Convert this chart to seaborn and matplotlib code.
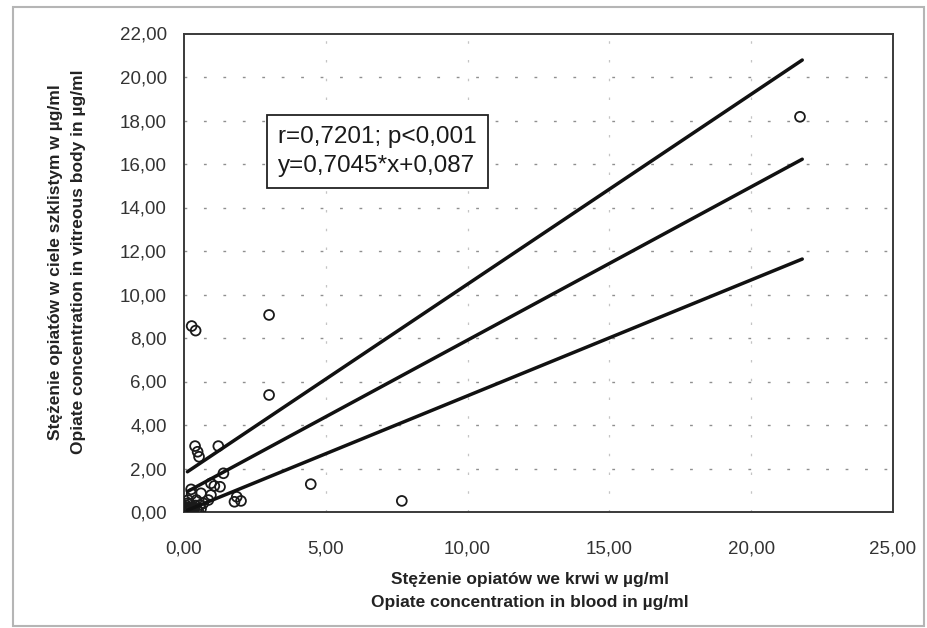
import matplotlib
matplotlib.use("Agg")
import matplotlib.pyplot as plt
import seaborn as sns
import pandas as pd
from matplotlib.patches import Rectangle

# ---- data ----
blood = [21.72, 3.00, 3.00, 0.27, 0.41, 0.39, 0.48, 0.53, 1.21, 1.39,
         0.95, 1.07, 1.27, 0.25, 0.27, 0.60, 0.95, 0.86, 0.68, 1.86,
         1.78, 2.01, 0.15, 0.44, 0.56, 0.33, 4.47, 7.68,
         0.05, 0.10, 0.15, 0.20, 0.25, 0.30, 0.35, 0.45, 0.50, 0.08,
         0.12, 0.20, 0.60, 0.40, 0.05]
vitreous = [18.17, 9.06, 5.38, 8.55, 8.34, 3.03, 2.77, 2.54, 3.03, 1.78,
            1.32, 1.20, 1.16, 1.04, 0.83, 0.86, 0.78, 0.55, 0.40, 0.70,
            0.47, 0.51, 0.55, 0.55, 0.32, 0.24, 1.28, 0.51,
            0.05, 0.12, 0.20, 0.08, 0.15, 0.05, 0.10, 0.12, 0.05, 0.30,
            0.40, 0.35, 0.15, 0.30, 0.20]

line_x = [0.12, 21.80]
upper_y = [1.85, 20.78]
mid_y = [0.94, 16.22]
lower_y = [0.08, 11.63]

y_ticks = [0, 2, 4, 6, 8, 10, 12, 14, 16, 18, 20, 22]
x_ticks = [0, 5, 10, 15, 20, 25]

annot = "r=0,7201; p<0,001\ny=0,7045*x+0,087"
xlabel = "Stężenie opiatów we krwi w µg/ml\nOpiate concentration in blood in µg/ml"
ylabel = "Stężenie opiatów w ciele szklistym w µg/ml\nOpiate concentration in vitreous body in µg/ml"

# ---- plot ----
sns.set_theme(style="white")
plt.rcParams['font.family'] = ['Liberation Sans', 'DejaVu Sans']

fig = plt.figure(figsize=(9.28, 6.28), dpi=100)
ax = fig.add_axes([184/928, 1-512/628, (893-184)/928, (512-33.5)/628])

# grid
for yv in y_ticks[1:-1]:
    ax.axhline(yv, color="#8f8f8f", lw=1.0, ls=(0, (2, 12)), zorder=0)
for xv in x_ticks[1:-1]:
    ax.axvline(xv, color="#c4c4c4", lw=0.9, ls=(0, (2, 13)), zorder=0)

df_pts = pd.DataFrame({"x": blood, "y": vitreous})
sns.scatterplot(data=df_pts, x="x", y="y", ax=ax, marker="o", s=50,
                facecolor="none", edgecolor="#1a1a1a", linewidth=1.3, zorder=3)

df_lines = pd.DataFrame({
    "x": line_x * 3,
    "y": upper_y + mid_y + lower_y,
    "band": ["upper"] * 2 + ["mid"] * 2 + ["lower"] * 2,
})
sns.lineplot(data=df_lines, x="x", y="y", units="band", estimator=None,
             color="#111111", lw=2.5, ax=ax, zorder=4, legend=False)

ax.set_xlim(0, 25)
ax.set_ylim(0, 22)
ax.set_xticks(x_ticks)
ax.set_yticks(y_ticks)
ax.set_xticklabels([f"{v:.2f}".replace(".", ",") for v in x_ticks], fontsize=13.5, color="#333333")
ax.set_yticklabels([f"{v:.2f}".replace(".", ",") for v in y_ticks], fontsize=13.5, color="#333333")
ax.tick_params(axis="both", direction="inout", length=5, width=0.9, color="#444444")
ax.tick_params(axis="x", pad=18)
ax.tick_params(axis="y", pad=10)

for s in ax.spines.values():
    s.set_color("#3a3a3a")
    s.set_linewidth(1.4)
    s.set_visible(True)

ax.set_xlabel(xlabel, fontsize=12.5, fontweight="semibold", color="#222222", linespacing=1.65)
ax.set_ylabel(ylabel, fontsize=12.5, fontweight="semibold", color="#222222", linespacing=1.65)
ax.xaxis.label.set_va("center")
ax.yaxis.label.set_va("center")
ax.xaxis.set_label_coords(0.488, -0.165)
ax.yaxis.set_label_coords(-0.165, 0.522)

ax.text(0.1326, 0.754, annot, transform=ax.transAxes, fontsize=17.5, color="#1a1a1a",
        ha="left", va="center", linespacing=1.4, zorder=6,
        bbox=dict(boxstyle="square,pad=0.45", facecolor="white", edgecolor="#222222", linewidth=1.3))

# outer scanned frame
fig.patches.append(Rectangle((13/928, 2/628), (924-13)/928, (621-2)/628, transform=fig.transFigure,
                             fill=False, edgecolor="#b5b5b5", linewidth=1.5))

fig.savefig("out.png", dpi=100, facecolor="white")
